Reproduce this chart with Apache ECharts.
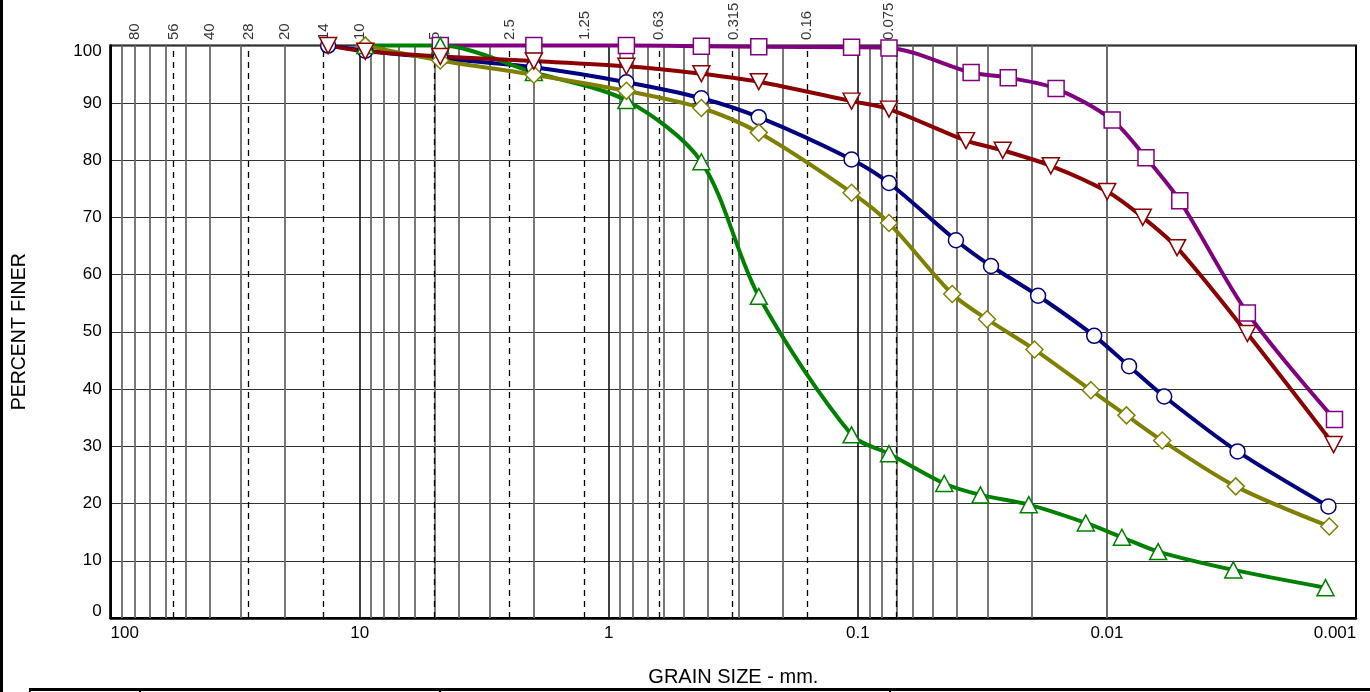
<!DOCTYPE html>
<html>
<head>
<meta charset="utf-8">
<script src="https://cdn.jsdelivr.net/npm/echarts@6/dist/echarts.min.js"></script>
<style>
html,body{margin:0;padding:0;background:#fff;}
#chart{width:1370px;height:692px;}
</style>
</head>
<body>
<div id="chart"></div>
<script>
// ---- Data (grain size in mm, percent finer) ----
const sizesPurple = [4.75, 2.0, 0.85, 0.425, 0.25, 0.106, 0.075, 0.0351, 0.0249, 0.016, 0.00953, 0.00697, 0.0051, 0.00273, 0.00122];
const finerPurple = [100, 100, 100, 99.9, 99.8, 99.7, 99.6, 95.3, 94.4, 92.5, 87.0, 80.4, 72.9, 53.3, 34.7];

const sizesRed = [13.4, 9.5, 4.75, 2.0, 0.85, 0.425, 0.25, 0.106, 0.075, 0.0368, 0.0262, 0.0168, 0.00998, 0.00718, 0.00523, 0.00273, 0.00123];
const finerRed = [100, 99.0, 98.1, 97.3, 96.4, 95.1, 93.7, 90.3, 88.9, 83.4, 81.7, 79.0, 74.5, 70.0, 64.7, 49.7, 30.3];

const sizesNavy = [13.4, 9.5, 4.75, 2.0, 0.85, 0.425, 0.25, 0.106, 0.075, 0.0404, 0.0292, 0.0189, 0.01125, 0.00815, 0.00589, 0.00299, 0.00129];
const finerNavy = [100, 99.1, 97.8, 96.2, 93.6, 90.8, 87.5, 80.1, 76.0, 66.0, 61.5, 56.3, 49.3, 44.0, 38.7, 29.1, 19.5];

const sizesOlive = [9.5, 4.75, 2.0, 0.85, 0.425, 0.25, 0.106, 0.075, 0.0418, 0.0303, 0.01954, 0.0116, 0.00835, 0.0060, 0.00304, 0.00128];
const finerOlive = [100, 97.4, 94.9, 92.1, 89.1, 84.8, 74.3, 69.0, 56.6, 52.2, 46.9, 39.8, 35.4, 31.0, 23.0, 16.0];

const sizesGreen = [9.5, 4.75, 2.0, 0.85, 0.425, 0.25, 0.106, 0.075, 0.045, 0.0322, 0.0206, 0.01216, 0.00871, 0.00623, 0.00311, 0.001326];
const finerGreen = [100, 100, 95.3, 90.4, 79.7, 56.2, 32.0, 28.7, 23.5, 21.5, 19.8, 16.6, 14.1, 11.6, 8.4, 5.3];

// ---- Axis labels ----
const xTickLabels = ['0.001', '0.01', '0.1', '1', '10', '100'];
const sieveSizes = [80, 56, 40, 28, 20, 14, 10, 5, 2.5, 1.25, 0.63, 0.315, 0.16, 0.075];
const sieveLabels = ['80', '56', '40', '28', '20', '14', '10', '5', '2.5', '1.25', '0.63', '0.315', '0.16', '0.075'];
const dashedSizes = [56, 28, 14, 5, 2.5, 1.25, 0.63, 0.315, 0.16, 0.075];

const FONT = "'Liberation Sans', Arial, sans-serif";

// log-axis minor grid positions (2..9 per decade)
const minorLines = [];
for (let k = -3; k <= 1; k++) {
  for (let m = 2; m <= 9; m++) {
    minorLines.push(parseFloat((m * Math.pow(10, k)).toPrecision(6)));
  }
}

const gridMarks = [];
minorLines.forEach(v => gridMarks.push({ xAxis: v, lineStyle: { color: '#6a6a6a', width: 1.8, type: 'solid' } }));
dashedSizes.forEach(v => gridMarks.push({ xAxis: v, lineStyle: { color: '#000', width: 1.3, type: [6, 5] } }));

function makeSeries(name, sizes, finer, color, symbol, size, rotate) {
  return {
    type: 'line',
    name: name,
    data: sizes.map((s, i) => [s, finer[i]]),
    smooth: 0.3,
    symbol: symbol,
    symbolSize: size,
    symbolRotate: rotate || 0,
    showSymbol: true,
    showAllSymbol: true,
    clip: false,
    z: 10,
    lineStyle: { color: color, width: 4 },
    itemStyle: { color: '#fff', borderColor: color, borderWidth: 1.5 },
    emphasis: { disabled: true },
    animation: false
  };
}

const chart = echarts.init(document.getElementById('chart'), null, { renderer: 'canvas' });

const option = {
  backgroundColor: '#fff',
  animation: false,
  grid: {
    left: 110.7, right: 14, top: 45.6, bottom: 73.4,
    show: true, borderColor: '#000', borderWidth: 2, backgroundColor: 'transparent'
  },
  xAxis: {
    type: 'log', logBase: 10, min: 0.001, max: 100, inverse: true,
    axisLine: { show: true, lineStyle: { color: '#000', width: 2.5 } },
    axisTick: { show: false },
    splitLine: { show: true, lineStyle: { color: '#000', width: 1.5 } },
    axisLabel: {
      color: '#000', fontFamily: FONT, fontSize: 17, margin: 7,
      formatter: function (v) {
        const idx = Math.round(Math.log10(v)) + 3;
        const t = xTickLabels[idx];
        if (idx === 5) return '{l|' + t + '}';
        if (idx === 0) return '{r|' + t + '}';
        return t;
      },
      rich: {
        l: { fontFamily: FONT, fontSize: 17, color: '#000', padding: [0, 0, 0, 28] },
        r: { fontFamily: FONT, fontSize: 17, color: '#000', padding: [0, 42, 0, 0] }
      }
    },
    name: 'GRAIN SIZE - mm.', nameLocation: 'middle', nameGap: 49,
    nameTextStyle: { fontFamily: FONT, fontSize: 20, color: '#000' }
  },
  yAxis: {
    type: 'value', min: 0, max: 100, interval: 10,
    axisLine: { show: true, lineStyle: { color: '#000', width: 2.5 } },
    axisTick: { show: false },
    splitLine: { show: true, lineStyle: { color: '#333', width: 1.2 } },
    axisLabel: {
      color: '#000', fontFamily: FONT, fontSize: 17, margin: 9,
      formatter: function (v) {
        if (v === 100) return '{t|100}';
        if (v === 0) return '{b|0}';
        return String(v);
      },
      rich: {
        t: { fontFamily: FONT, fontSize: 17, color: '#000', padding: [12, 0, 0, 0] },
        b: { fontFamily: FONT, fontSize: 17, color: '#000', padding: [0, 0, 13, 0] }
      }
    },
    name: 'PERCENT FINER', nameLocation: 'middle', nameGap: 81,
    nameTextStyle: { fontFamily: FONT, fontSize: 19.5, color: '#000' }
  },
  graphic: [
    { type: 'rect', shape: { x: 0, y: 0, width: 3, height: 692 }, style: { fill: '#000' }, silent: true },
    { type: 'line', shape: { x1: 30, y1: 689.5, x2: 1370, y2: 689.5 }, style: { stroke: '#000', lineWidth: 3 }, silent: true },
    { type: 'line', shape: { x1: 30, y1: 688, x2: 30, y2: 692 }, style: { stroke: '#000', lineWidth: 2 }, silent: true },
    { type: 'line', shape: { x1: 140, y1: 688, x2: 140, y2: 692 }, style: { stroke: '#000', lineWidth: 2 }, silent: true },
    { type: 'line', shape: { x1: 440, y1: 688, x2: 440, y2: 692 }, style: { stroke: '#000', lineWidth: 2 }, silent: true },
    { type: 'line', shape: { x1: 890, y1: 688, x2: 890, y2: 692 }, style: { stroke: '#000', lineWidth: 2 }, silent: true }
  ],
  series: [
    {
      type: 'scatter',
      name: 'sieves',
      data: sieveSizes.map(s => [s, 100]),
      symbolSize: 1,
      clip: false,
      z: 1,
      silent: true,
      itemStyle: { color: 'rgba(0,0,0,0)' },
      label: {
        show: true, position: 'top', distance: 5, rotate: 90,
        align: 'left', verticalAlign: 'middle',
        color: '#000', fontFamily: FONT, fontSize: 15,
        formatter: function (p) { return sieveLabels[p.dataIndex]; }
      },
      markLine: {
        silent: true, symbol: ['none', 'none'], label: { show: false },
        animation: false, z: 1,
        data: gridMarks
      },
      animation: false
    },
    makeSeries('S1', sizesPurple, finerPurple, '#800080', 'rect', 16, 0),
    makeSeries('S3', sizesNavy, finerNavy, '#000080', 'circle', 15, 0),
    makeSeries('S5', sizesGreen, finerGreen, '#008000', 'triangle', [17, 16], 0),
    makeSeries('S4', sizesOlive, finerOlive, '#808000', 'diamond', [17, 17], 0),
    makeSeries('S2', sizesRed, finerRed, '#8B0000', 'triangle', [17, 16], 180)
  ]
};

chart.setOption(option);
</script>
</body>
</html>
